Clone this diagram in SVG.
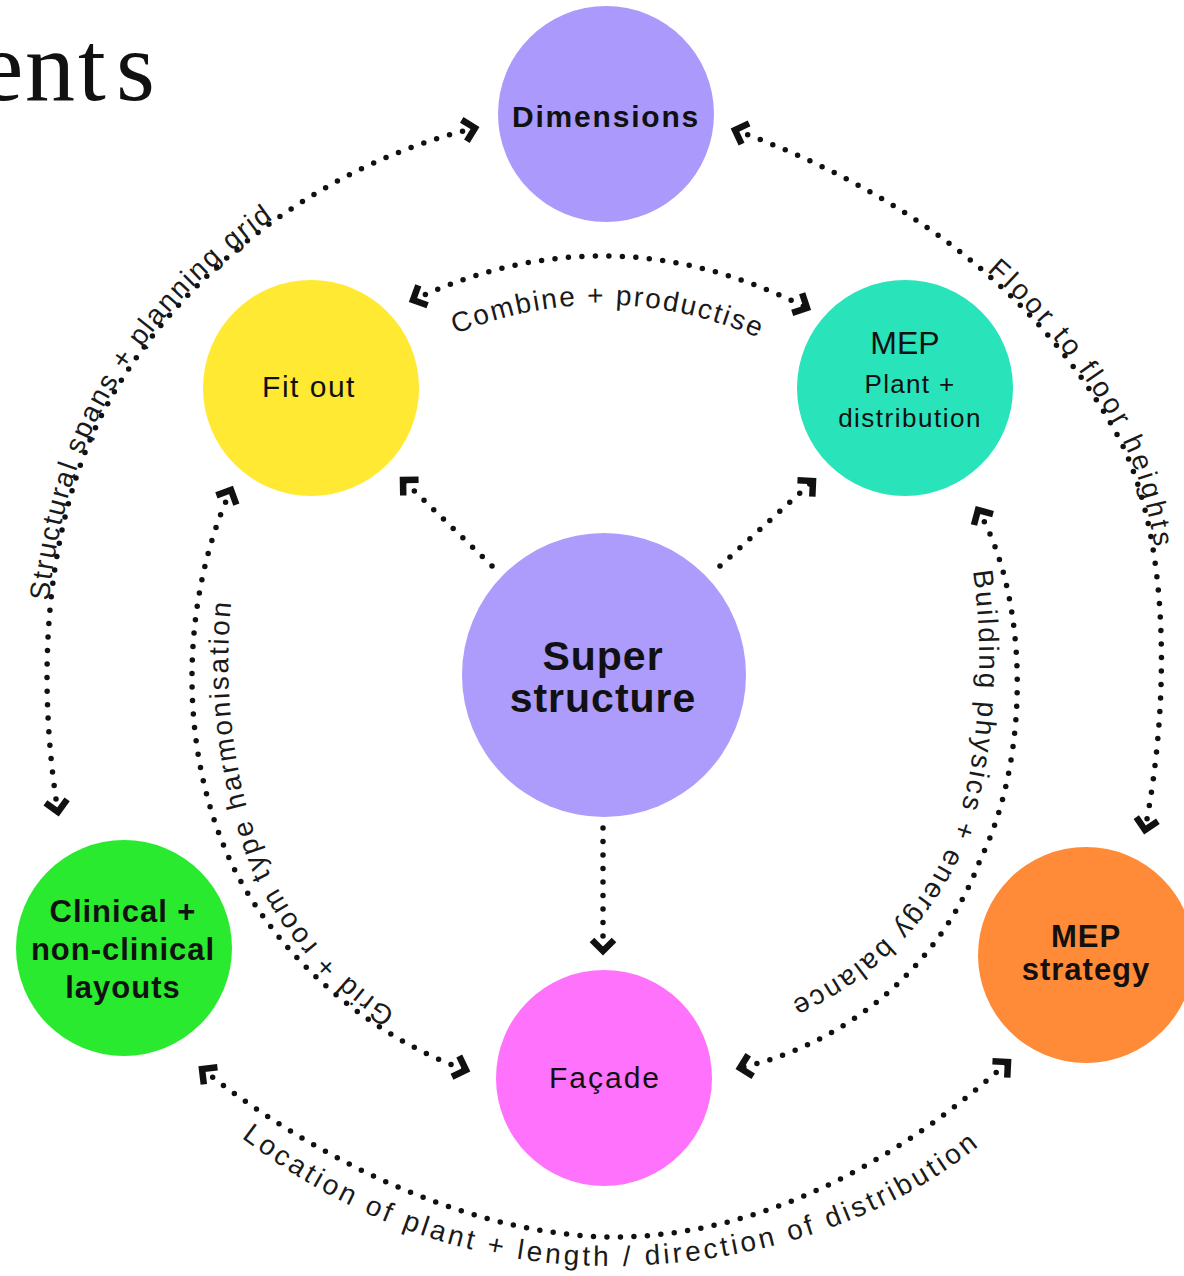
<svg xmlns="http://www.w3.org/2000/svg" xmlns:xlink="http://www.w3.org/1999/xlink" width="1184" height="1276" viewBox="0 0 1184 1276">
<style>
.dot{fill:none;stroke:#111;stroke-width:5.5;stroke-linecap:round;stroke-dasharray:0 13.5}
.lbl{font-family:"Liberation Sans",Arial,sans-serif;font-size:28px;letter-spacing:2px;fill:#1a1a1a}
.nreg{font-family:"Liberation Sans",Arial,sans-serif;font-size:30px;letter-spacing:1.5px;fill:#111;text-anchor:middle}
.nbold{font-family:"Liberation Sans",Arial,sans-serif;font-weight:bold;font-size:31px;letter-spacing:1px;fill:#111;text-anchor:middle}
</style>
<defs>
<marker id="ah" markerUnits="userSpaceOnUse" markerWidth="40" markerHeight="40" viewBox="-20 -20 40 40" refX="0" refY="0" orient="auto-start-reverse" overflow="visible">
<path d="M -11,-11 L 0,0 L -11,11" fill="none" stroke="#111" stroke-width="6.5"/>
</marker>
<path id="t3" d="M 430,345 Q 607,262 785,350"/>
<path id="t6" d="M 470,1048 C 385,1018 312,958 268,870 C 222,760 215,620 252,500"/>
<path id="t7" d="M 967,540 C 985,620 985,740 955,830 C 920,920 850,980 770,1010"/>
<path id="t8" d="M 222,1122 C 345,1224 480,1266 610,1266 C 760,1266 905,1215 1000,1128"/>
</defs>
<rect width="1184" height="1276" fill="#fff"/>
<text font-family="'Liberation Serif',serif" font-size="100" fill="#111" x="-21 25 78 116" y="100">ents</text>

<g id="connectors">
<path id="c1" class="dot" d="M 58,812 C 40,700 40,560 90,440 C 150,300 300,170 475,128" marker-start="url(#ah)" marker-end="url(#ah)"/>
<path id="c2" class="dot" d="M 735,130 C 900,190 1040,290 1120,440 C 1170,540 1170,700 1145,830" marker-start="url(#ah)" marker-end="url(#ah)"/>
<path id="c3" class="dot" d="M 413,300 Q 610,208 807,308" marker-start="url(#ah)" marker-end="url(#ah)"/>
<path id="c4" class="dot" d="M 492,566 L 403,480" marker-end="url(#ah)"/>
<path id="c5" class="dot" d="M 720,566 L 813,481" marker-end="url(#ah)"/>
<path id="c6" class="dot" d="M 603,828 L 603,951" marker-end="url(#ah)"/>
<path id="c7" class="dot" d="M 231,490 C 180,600 175,760 240,880 C 290,970 380,1040 466,1070" marker-start="url(#ah)" marker-end="url(#ah)"/>
<path id="c8" class="dot" d="M 978,510 C 1030,600 1030,760 980,860 C 945,955 860,1040 740,1068" marker-start="url(#ah)" marker-end="url(#ah)"/>
<path id="c9" class="dot" d="M 202,1069 C 330,1170 480,1235 610,1237 C 760,1238 900,1160 1008,1062" marker-start="url(#ah)" marker-end="url(#ah)"/>
<text class="lbl" text-anchor="middle" dy="-2"><textPath href="#c1" xlink:href="#c1" startOffset="49.5%">Structural spans + planning grid</textPath></text>
<text class="lbl" text-anchor="middle" dy="-2" style="letter-spacing:3.5px"><textPath href="#c2" xlink:href="#c2" startOffset="50.5%">Floor to floor heights</textPath></text>
<text class="lbl" text-anchor="middle"><textPath href="#t3" xlink:href="#t3" startOffset="50%">Combine + productise</textPath></text>
<text class="lbl" text-anchor="middle" style="letter-spacing:2.5px"><textPath href="#t6" xlink:href="#t6" startOffset="48.5%">Grid + room type harmonisation</textPath></text>
<text class="lbl" text-anchor="middle" style="letter-spacing:2.5px"><textPath href="#t7" xlink:href="#t7" startOffset="51%">Building physics + energy balance</textPath></text>
<text class="lbl" text-anchor="middle" style="letter-spacing:3.3px"><textPath href="#t8" xlink:href="#t8" startOffset="50%">Location of plant + length / direction of distribution</textPath></text>
</g>

<g id="node-dimensions">
<circle cx="606" cy="114" r="108" fill="#ab9afc"/>
<text class="nbold" x="606" y="127" style="font-size:30px;letter-spacing:1.8px">Dimensions</text>
</g>
<g id="node-fitout">
<circle cx="311" cy="388" r="108" fill="#ffe933"/>
<text class="nreg" x="309" y="397">Fit out</text>
</g>
<g id="node-mep">
<circle cx="905" cy="388" r="108" fill="#29e3ba"/>
<text class="nreg" x="905" y="354" style="font-size:32px;letter-spacing:0">MEP</text>
<text class="nreg" x="910" y="393" style="font-size:26px;letter-spacing:1.3px">Plant +</text>
<text class="nreg" x="910" y="427" style="font-size:26px;letter-spacing:1.5px">distribution</text>
</g>
<g id="node-superstructure">
<circle cx="604" cy="675" r="142" fill="#ad9cfb"/>
<text class="nbold" x="603" y="670" style="font-size:41px">Super</text>
<text class="nbold" x="603" y="712" style="font-size:41px">structure</text>
</g>
<g id="node-clinical">
<circle cx="124" cy="948" r="108" fill="#2aea2f"/>
<text class="nbold" x="123" y="922">Clinical +</text>
<text class="nbold" x="123" y="960">non-clinical</text>
<text class="nbold" x="123" y="998">layouts</text>
</g>
<g id="node-facade">
<circle cx="604" cy="1078" r="108" fill="#ff72fb"/>
<text class="nreg" x="605" y="1088" style="letter-spacing:2px">Façade</text>
</g>
<g id="node-mepstrategy">
<circle cx="1086" cy="955" r="108" fill="#ff8a37"/>
<text class="nbold" x="1086" y="947">MEP</text>
<text class="nbold" x="1086" y="980">strategy</text>
</g>
</svg>
